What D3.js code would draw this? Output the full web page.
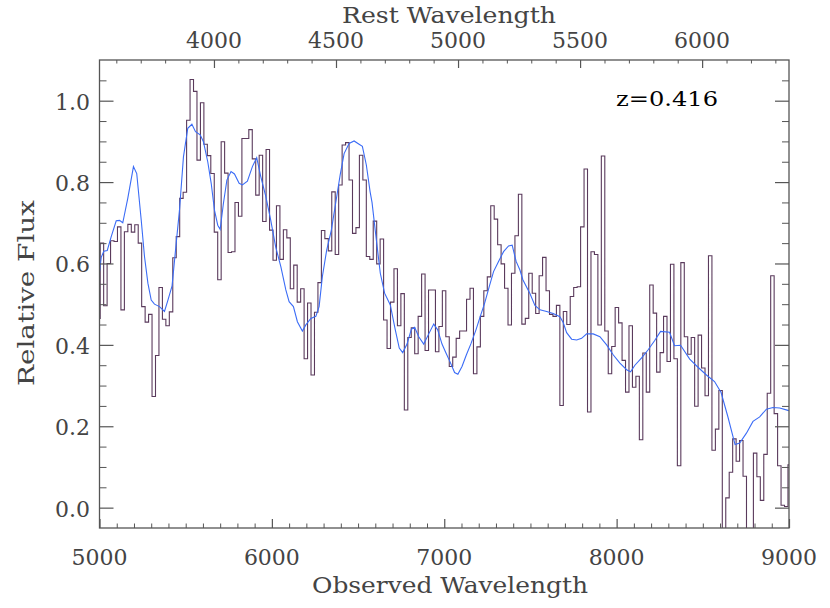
<!DOCTYPE html>
<html>
<head>
<meta charset="utf-8">
<script src="https://cdn.jsdelivr.net/npm/d3@7"></script>
<style>
  html, body { margin: 0; padding: 0; background: #fff; }
  svg { display: block; }
  text { font-family: "DejaVu Serif", "Liberation Serif", serif; }
</style>
</head>
<body>
<svg id="chart" width="830" height="608"></svg>
<script>
// ---------------- DATA ----------------
const redshift = 0.416;
const binStart = 4984;     // left edge of first bin (Å, observed)
const binWidth = 20.05;    // Å
const fluxBins = [
  0.465,
  0.650, 0.496, 0.600, 0.656, 0.654, 0.690, 0.486, 0.678, 0.696, 0.677,
  0.695, 0.650, 0.494, 0.456, 0.475, 0.273, 0.374, 0.541, 0.463, 0.447,
  0.481, 0.614, 0.666, 0.760, 0.775, 0.952, 1.052, 1.023, 0.854, 0.995,
  0.893, 0.865, 0.821, 0.677, 0.560, 0.899, 0.822, 0.627, 0.629, 0.750,
  0.716, 0.907, 0.907, 0.929, 0.857, 0.768, 0.866, 0.703, 0.880, 0.682,
  0.608, 0.742, 0.610, 0.683, 0.663, 0.538, 0.596, 0.505, 0.538, 0.366,
  0.503, 0.326, 0.480, 0.553, 0.681, 0.661, 0.631, 0.776, 0.622, 0.793,
  0.891, 0.897, 0.805, 0.674, 0.688, 0.866, 0.805, 0.617, 0.610, 0.704,
  0.599, 0.660, 0.461, 0.391, 0.505, 0.587, 0.447, 0.526, 0.240, 0.418,
  0.442, 0.378, 0.470, 0.574, 0.386, 0.535, 0.535, 0.383, 0.445, 0.533,
  0.420, 0.347, 0.370, 0.416, 0.434, 0.434, 0.512, 0.539, 0.329, 0.395,
  0.470, 0.533, 0.567, 0.742, 0.709, 0.646, 0.599, 0.539, 0.449, 0.576,
  0.668, 0.770, 0.451, 0.465, 0.576, 0.527, 0.477, 0.570, 0.615, 0.533,
  0.475, 0.470, 0.497, 0.251, 0.482, 0.450, 0.519, 0.541, 0.543, 0.690,
  0.832, 0.235, 0.629, 0.622, 0.449, 0.864, 0.434, 0.329, 0.396, 0.492,
  0.454, 0.362, 0.284, 0.447, 0.296, 0.323, 0.167, 0.380, 0.284, 0.547,
  0.478, 0.333, 0.381, 0.470, 0.359, 0.598, 0.366, 0.103, 0.602, 0.420,
  0.377, 0.418, 0.249, 0.424, 0.343, 0.275, 0.619, 0.141, 0.193, 0.288,
  -0.08, 0.024, 0.087, 0.169, 0.114, 0.165, 0.077, -0.08, -0.08, 0.134,
  0.076, 0.018, 0.131, 0.281, 0.570, 0.231, 0.103, 0.006, 0.003, 0.105
];

const modelWave = [
  5000, 5010, 5025, 5045, 5068, 5097, 5116, 5135, 5164, 5197, 5216, 5242, 5261, 5281,
  5300, 5319, 5348, 5377, 5397, 5421, 5445, 5464, 5487, 5512, 5536, 5557, 5584, 5603,
  5628, 5648, 5667, 5686, 5700, 5719, 5739, 5763, 5783, 5810, 5829, 5858, 5887, 5912,
  5936, 5965, 5993, 6022, 6052, 6081, 6100, 6125, 6148, 6177, 6197, 6226, 6255, 6274,
  6293, 6318, 6345, 6370, 6396, 6419, 6448, 6477, 6506, 6525, 6548, 6570, 6581, 6600,
  6629, 6654, 6687, 6716, 6739, 6759, 6784, 6809, 6828, 6852, 6881, 6910, 6939, 6962,
  6987, 7010, 7035, 7060, 7079, 7103, 7128, 7155, 7184, 7209, 7234, 7261, 7286, 7315,
  7344, 7373, 7394, 7417, 7439, 7456, 7497, 7526, 7555, 7594, 7632, 7671, 7690, 7710,
  7739, 7768, 7797, 7826, 7864, 7903, 7942, 7981, 8019, 8058, 8081, 8106, 8145, 8183,
  8220, 8255, 8307, 8336, 8371, 8424, 8472, 8521, 8568, 8606, 8645, 8687, 8714, 8753,
  8791, 8830, 8869, 8907, 8946, 8994, 9000
];
const modelFlux = [
  0.580, 0.615, 0.630, 0.632, 0.666, 0.705, 0.706, 0.700, 0.760, 0.838, 0.821, 0.707, 0.617, 0.551,
  0.510, 0.500, 0.494, 0.482, 0.510, 0.545, 0.650, 0.731, 0.862, 0.932, 0.942, 0.924, 0.916, 0.899,
  0.850, 0.797, 0.731, 0.694, 0.684, 0.748, 0.805, 0.826, 0.820, 0.797, 0.793, 0.802, 0.838, 0.860,
  0.813, 0.764, 0.707, 0.641, 0.592, 0.535, 0.506, 0.494, 0.457, 0.434, 0.449, 0.465, 0.470, 0.494,
  0.568, 0.633, 0.682, 0.748, 0.817, 0.870, 0.895, 0.901, 0.893, 0.888, 0.842, 0.776, 0.750, 0.680,
  0.576, 0.527, 0.498, 0.437, 0.392, 0.381, 0.402, 0.438, 0.443, 0.420, 0.402, 0.427, 0.451, 0.437,
  0.402, 0.380, 0.357, 0.332, 0.328, 0.347, 0.375, 0.403, 0.437, 0.470, 0.502, 0.543, 0.580, 0.605,
  0.629, 0.643, 0.645, 0.605, 0.584, 0.560, 0.526, 0.497, 0.486, 0.482, 0.477, 0.469, 0.455, 0.430,
  0.414, 0.412, 0.416, 0.427, 0.427, 0.420, 0.400, 0.375, 0.355, 0.339, 0.334, 0.350, 0.368, 0.388,
  0.410, 0.433, 0.431, 0.398, 0.399, 0.365, 0.345, 0.326, 0.310, 0.283, 0.224, 0.155, 0.159, 0.183,
  0.212, 0.223, 0.242, 0.246, 0.245, 0.239, 0.238
];

const xTicksMajor = [5000, 6000, 7000, 8000, 9000];
const yTicksMajor = [0.0, 0.2, 0.4, 0.6, 0.8, 1.0];
const restTicksMajor = [4000, 4500, 5000, 5500, 6000];

const xTitle = "Observed Wavelength";
const yTitle = "Relative Flux";
const topTitle = "Rest Wavelength";
const zLabel = "z=0.416";

// ---------------- LAYOUT ----------------
const svg = d3.select("#chart");
const L = 99.5, R = 789, T = 60, B = 528;
const axisColor = "#555";
const textColor = "#444";

const x = d3.scaleLinear().domain([5000, 9000]).range([L, R]);
const y = d3.scaleLinear().domain([-0.05, 1.1]).range([B, T]);
const xRest = d3.scaleLinear().domain([5000 / (1 + redshift), 9000 / (1 + redshift)]).range([L, R]);

svg.append("defs").append("clipPath").attr("id", "plotclip")
  .append("rect").attr("x", L).attr("y", T).attr("width", R - L).attr("height", B - T);

// histogram (step)
const stepPts = fluxBins.map((v, i) => [binStart + i * binWidth, v]);
stepPts.push([binStart + fluxBins.length * binWidth, fluxBins[fluxBins.length - 1]]);
const stepLine = d3.line().x(d => x(d[0])).y(d => y(d[1])).curve(d3.curveStepAfter);

const plot = svg.append("g").attr("clip-path", "url(#plotclip)");
plot.append("path")
  .attr("d", stepLine(stepPts))
  .attr("fill", "none")
  .attr("stroke", "#5a3a5c")
  .attr("stroke-width", 1.1);

// model line
const modelPts = modelWave.map((w, i) => [w, modelFlux[i]]);
plot.append("path")
  .attr("d", d3.line().x(d => x(d[0])).y(d => y(d[1]))(modelPts))
  .attr("fill", "none")
  .attr("stroke", "#3b6cf6")
  .attr("stroke-width", 1.1);

// ---------------- AXES ----------------
const axesG = svg.append("g");
function axis(scale, orient, majors, minors, majLen, minLen) {
  let ax;
  if (orient === "bottom") ax = d3.axisTop(scale);     // ticks pointing inward (up)
  else if (orient === "top") ax = d3.axisBottom(scale); // inward (down)
  else if (orient === "left") ax = d3.axisRight(scale);
  else ax = d3.axisLeft(scale);
  const tr = { bottom: `translate(0,${B})`, top: `translate(0,${T})`, left: `translate(${L},0)`, right: `translate(${R},0)` }[orient];
  const gMin = axesG.append("g").attr("transform", tr)
    .call(ax.tickValues(minors).tickSize(minLen).tickFormat(""));
  gMin.select(".domain").remove();
  gMin.selectAll("line").attr("stroke", axisColor).attr("stroke-width", 1);
  const gMaj = axesG.append("g").attr("transform", tr)
    .call(ax.tickValues(majors).tickSize(majLen).tickFormat(""));
  gMaj.select(".domain").remove();
  gMaj.selectAll("line").attr("stroke", axisColor).attr("stroke-width", 1.2);
}

const xMinor = d3.range(5100, 9000, 100).filter(v => !xTicksMajor.includes(v));
const yMinor = d3.range(0, 22).map(i => +(i * 0.05).toFixed(2)).filter(v => !yTicksMajor.some(m => Math.abs(m - v) < 1e-6) && v <= 1.1);
const restMinor = d3.range(3600, 6400, 100).filter(v => !restTicksMajor.includes(v));

axis(x, "bottom", xTicksMajor, xMinor, 9, 4.5);
axis(xRest, "top", restTicksMajor, restMinor, 8, 3.5);
axis(y, "left", yTicksMajor, yMinor, 14, 7);
axis(y, "right", yTicksMajor, yMinor, 14, 7);

// frame
svg.append("rect").attr("x", L).attr("y", T).attr("width", R - L).attr("height", B - T)
  .attr("fill", "none").attr("stroke", axisColor).attr("stroke-width", 1.3);

// tick labels
const fs = 22;
svg.append("g").selectAll("text").data(xTicksMajor).join("text")
  .attr("x", d => x(d)).attr("y", 565).attr("text-anchor", "middle")
  .attr("font-size", fs).attr("fill", textColor).text(d => d);
svg.append("g").selectAll("text").data(restTicksMajor).join("text")
  .attr("x", d => xRest(d)).attr("y", 48).attr("text-anchor", "middle")
  .attr("font-size", fs).attr("fill", textColor).text(d => d);
svg.append("g").selectAll("text").data(yTicksMajor).join("text")
  .attr("x", 90).attr("y", d => y(d) + 9).attr("text-anchor", "end")
  .attr("font-size", fs).attr("fill", textColor).text(d => d3.format(".1f")(d));

// titles
svg.append("text").attr("x", 450).attr("y", 593).attr("text-anchor", "middle")
  .attr("font-size", fs).attr("fill", textColor)
  .attr("textLength", 276).attr("lengthAdjust", "spacingAndGlyphs").text(xTitle);
svg.append("text").attr("x", 449).attr("y", 23).attr("text-anchor", "middle")
  .attr("font-size", fs).attr("fill", textColor)
  .attr("textLength", 214).attr("lengthAdjust", "spacingAndGlyphs").text(topTitle);
svg.append("text").attr("transform", "translate(34,293) rotate(-90)").attr("text-anchor", "middle")
  .attr("font-size", fs).attr("fill", textColor)
  .attr("textLength", 186).attr("lengthAdjust", "spacingAndGlyphs").text(yTitle);
svg.append("text").attr("x", 616).attr("y", 106)
  .attr("font-size", 21).attr("fill", "#000")
  .attr("textLength", 102).attr("lengthAdjust", "spacingAndGlyphs").text(zLabel);
</script>
</body>
</html>
